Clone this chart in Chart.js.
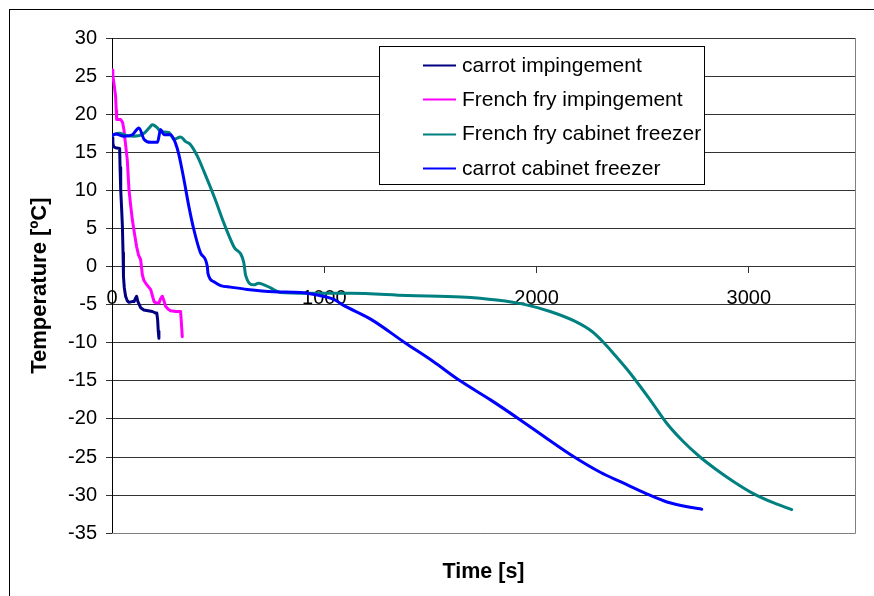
<!DOCTYPE html>
<html>
<head>
<meta charset="utf-8">
<script src="https://cdn.jsdelivr.net/npm/chart.js@4/dist/chart.umd.min.js"></script>
<style>
  html, body { margin: 0; padding: 0; background: #fff; }
  #wrap { width: 874px; height: 596px; }
</style>
</head>
<body>
<div id="wrap"><canvas id="c" width="874" height="596"></canvas></div>
<script>
// Freezing curves: product temperature [ºC] against time [s]

// carrot, impingement freezer
const carrotImpTime = [0, 4, 8, 17, 36, 38, 41, 45, 49, 52, 54, 58, 64, 72, 80, 95, 104, 110, 116, 122, 135, 150, 170, 190, 206, 211, 215, 218, 221];
const carrotImpTemp = [16.9, 16.2, 15.7, 15.6, 15.5, 13.0, 10.1, 7.8, 5.3, 1.8, -1.3, -2.8, -3.9, -4.5, -4.7, -4.6, -4.6, -4.2, -3.9, -4.6, -5.4, -5.7, -5.8, -5.9, -6.1, -6.1, -7.0, -8.5, -9.4];

// French fry, impingement freezer
const fryImpTime = [0, 4, 9, 14, 17, 20, 22, 41, 50, 56, 62, 72, 80, 88, 96, 106, 116, 125, 135, 143, 150, 159, 170, 182, 190, 198, 210, 221, 229, 237, 245, 252, 265, 276, 300, 323, 326, 331];
const fryImpTemp = [25.8, 25.0, 24.1, 23.0, 22.3, 20.5, 19.3, 19.3, 18.9, 18.0, 16.5, 14.0, 10.1, 8.0, 6.1, 4.3, 2.6, 1.5, 0.9, -1.1, -1.8, -2.2, -2.6, -3.0, -3.8, -4.6, -4.8, -4.8, -4.2, -3.9, -4.5, -5.2, -5.6, -5.8, -5.9, -5.9, -7.0, -9.2];

// French fry, cabinet freezer
const fryCabTime = [0, 33, 70, 104, 151, 175, 190, 214, 229, 268, 292, 323, 347, 370, 402, 433, 485, 527, 574, 621, 629, 668, 690, 708, 747, 794, 920, 1123, 1391, 1644, 1812, 1947, 2064, 2182, 2260, 2317, 2362, 2441, 2535, 2614, 2692, 2770, 2849, 2927, 3021, 3115, 3202];
const fryCabTemp = [17.2, 17.5, 17.2, 17.1, 17.5, 18.2, 18.6, 18.2, 17.7, 17.6, 16.7, 17.0, 16.4, 16.0, 14.5, 12.5, 8.9, 5.7, 2.6, 0.5, -1.1, -2.4, -2.2, -2.3, -2.8, -3.4, -3.5, -3.5, -3.8, -4.0, -4.4, -5.0, -5.9, -7.2, -8.5, -10.0, -11.4, -14.0, -17.5, -20.6, -23.0, -25.0, -26.7, -28.2, -29.8, -31.0, -31.9];

// carrot, cabinet freezer
const carrotCabTime = [0, 17, 56, 96, 127, 151, 182, 214, 229, 245, 276, 299, 315, 339, 362, 386, 417, 449, 452, 480, 512, 559, 637, 762, 888, 960, 1045, 1085, 1224, 1380, 1510, 1640, 1783, 1927, 2050, 2172, 2300, 2400, 2516, 2614, 2723, 2778];
const carrotCabTemp = [17.2, 17.4, 17.1, 17.3, 18.2, 16.7, 16.3, 16.3, 18.0, 17.3, 17.3, 16.2, 14.7, 11.4, 7.9, 4.8, 1.8, 0, -0.9, -2.0, -2.5, -2.7, -3.0, -3.3, -3.4, -3.7, -4.3, -5.0, -7.0, -10.0, -12.4, -15.0, -17.5, -20.2, -22.6, -24.9, -27.0, -28.3, -29.8, -30.9, -31.6, -31.85];

const seriesLabels = ['carrot impingement', 'French fry impingement', 'French fry cabinet freezer', 'carrot cabinet freezer'];
const seriesColors = ['#000080', '#FF00FF', '#008080', '#0000FF'];
const seriesTimes = [carrotImpTime, fryImpTime, fryCabTime, carrotCabTime];
const seriesTemps = [carrotImpTemp, fryImpTemp, fryCabTemp, carrotCabTemp];
// the slow cabinet runs are drawn as smooth curves, the fast impingement runs as plain polylines
const seriesSmooth = [false, false, true, true];

const xTicks = [0, 1000, 2000, 3000];
const yTicks = [-35, -30, -25, -20, -15, -10, -5, 0, 5, 10, 15, 20, 25, 30];

const FONT = "'Liberation Sans', Arial, sans-serif";

// white page with the outer frame line, and the grey plot-area edge
const framePlugin = {
  id: 'frame',
  beforeDraw(chart) {
    const ctx = chart.ctx;
    ctx.save();
    ctx.fillStyle = '#fff';
    ctx.fillRect(0, 0, chart.width, chart.height);
    ctx.strokeStyle = '#000';
    ctx.lineWidth = 1;
    ctx.strokeRect(9.5, 9.5, 1000, 1000);
    ctx.restore();
  },
  beforeDatasetsDraw(chart) {
    const { ctx, chartArea: a } = chart;
    ctx.save();
    ctx.strokeStyle = '#808080';
    ctx.lineWidth = 1;
    ctx.beginPath();
    ctx.moveTo(Math.round(a.right) + 0.5, a.top);
    ctx.lineTo(Math.round(a.right) + 0.5, Math.round(a.bottom) + 0.5);
    ctx.lineTo(a.left, Math.round(a.bottom) + 0.5);
    ctx.stroke();
    ctx.restore();
  }
};

// boxed legend inside the plot
const legendBoxPlugin = {
  id: 'legendBox',
  afterDraw(chart) {
    const ctx = chart.ctx;
    const bx = 379.5, by = 46.5, bw = 325, bh = 138;
    ctx.save();
    ctx.fillStyle = '#fff';
    ctx.fillRect(bx, by, bw, bh);
    ctx.strokeStyle = '#000';
    ctx.lineWidth = 1;
    ctx.strokeRect(bx, by, bw, bh);
    ctx.font = '21px ' + FONT;
    ctx.textBaseline = 'middle';
    ctx.textAlign = 'left';
    chart.data.datasets.forEach((ds, i) => {
      const y = 65 + i * 34.3;
      ctx.strokeStyle = ds.borderColor;
      ctx.lineWidth = 2;
      ctx.beginPath();
      ctx.moveTo(423, Math.round(y) + 0.5);
      ctx.lineTo(456, Math.round(y) + 0.5);
      ctx.stroke();
      ctx.fillStyle = '#000';
      ctx.fillText(ds.label, 462, y + 1);
    });
    ctx.restore();
  }
};

const datasets = seriesLabels.map((label, i) => ({
  label: label,
  data: seriesTimes[i].map((t, k) => ({ x: t, y: seriesTemps[i][k] })),
  borderColor: seriesColors[i],
  backgroundColor: seriesColors[i],
  showLine: true,
  pointRadius: 0,
  borderWidth: 3,
  borderJoinStyle: 'round',
  borderCapStyle: 'round',
  cubicInterpolationMode: seriesSmooth[i] ? 'monotone' : 'default',
  tension: 0,
  order: seriesLabels.length - i
}));

new Chart(document.getElementById('c'), {
  type: 'scatter',
  data: { datasets },
  options: {
    responsive: false,
    animation: false,
    devicePixelRatio: 1,
    layout: { padding: { left: 0, top: 38, right: 19, bottom: 11 } },
    plugins: {
      legend: { display: false },
      tooltip: { enabled: false },
      title: {
        display: true,
        text: 'Time [s]',
        position: 'bottom',
        fullSize: false,
        color: '#000',
        font: { family: FONT, size: 21.5, weight: 'bold' },
        padding: { top: 26, bottom: 0 }
      }
    },
    scales: {
      x: {
        type: 'linear',
        position: { y: 0 },
        min: 0,
        max: 3500,
        afterBuildTicks: s => { s.ticks = xTicks.map(v => ({ value: v })); },
        ticks: {
          callback: v => String(v),
          color: '#000',
          font: { family: FONT, size: 20 },
          padding: 14,
          maxRotation: 0,
          autoSkip: false
        },
        grid: { drawOnChartArea: false, drawTicks: true, tickLength: 6, color: '#333' },
        border: { display: true, color: '#333', width: 1 }
      },
      y: {
        type: 'linear',
        min: -35,
        max: 30,
        afterBuildTicks: s => { s.ticks = yTicks.map(v => ({ value: v })); },
        afterFit: s => { s.width = 112; },
        ticks: {
          callback: v => String(v),
          color: '#000',
          font: { family: FONT, size: 20 },
          padding: 9,
          autoSkip: false
        },
        grid: { color: '#333', tickLength: 6, lineWidth: 1 },
        border: { display: true, color: '#000', width: 1 },
        title: {
          display: true,
          text: 'Temperature [ºC]',
          color: '#000',
          font: { family: FONT, size: 22, weight: 'bold' },
          padding: { top: 27, bottom: 0 }
        }
      }
    }
  },
  plugins: [framePlugin, legendBoxPlugin]
});
</script>
</body>
</html>
